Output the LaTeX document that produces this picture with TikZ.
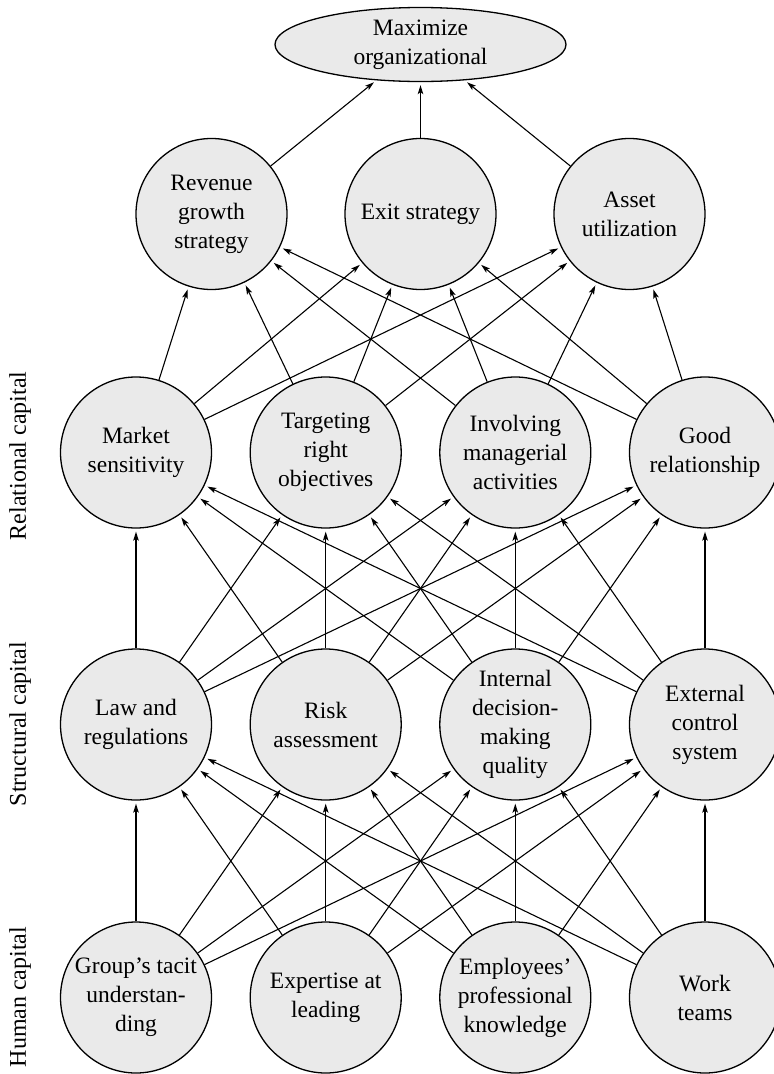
\documentclass[tikz,border=0pt]{standalone}
\usepackage{fontspec}
\setmainfont{Liberation Serif}
\usetikzlibrary{shapes.geometric,arrows.meta}
\definecolor{nodefill}{RGB}{234,234,234}
\begin{document}
\begin{tikzpicture}[x=1pt,y=-1pt,
  every node/.style={font=\fontsize{23.5}{29}\selectfont, align=center},
  cnode/.style={circle, draw=black, line width=1.3pt, fill=nodefill, minimum size=151pt, inner sep=0pt},
  enode/.style={ellipse, draw=black, line width=1.3pt, fill=nodefill, minimum width=291pt, minimum height=74pt, inner sep=0pt},
  sidelabel/.style={rotate=90, font=\fontsize{24}{29}\selectfont, anchor=center},
  link/.style={line width=1.1pt, -{Stealth[length=9pt,width=5.5pt,inset=2pt]}, shorten >=3pt}
]
\useasboundingbox (0,0) rectangle (774,1074);

% top
\node[enode] (max) at (420.5,44.5) {Maximize\\organizational};

% level 2
\node[cnode] (rev) at (211.5,214) {Revenue\\growth\\strategy};
\node[cnode] (exit) at (420.5,214) {Exit strategy};
\node[cnode] (asset) at (629.5,214) {Asset\\utilization};

% level 3
\node[cnode] (mkt) at (136,452.5) {Market\\sensitivity};
\node[cnode] (tgt) at (325.7,452.5) {Targeting\\right\\objectives};
\node[cnode] (inv) at (515.3,452.5) {Involving\\managerial\\activities};
\node[cnode] (good) at (705,452.5) {Good\\relationship};

% level 4
\node[cnode] (law) at (136,724.5) {Law and\\regulations};
\node[cnode] (risk) at (325.7,724.5) {Risk\\assessment};
\node[cnode] (idm) at (515.3,724.5) {Internal\\decision-\\making\\quality};
\node[cnode] (ext) at (705,724.5) {External\\control\\system};

% level 5
\node[cnode] (grp) at (136,997.5) {Group’s tacit\\understan-\\ding};
\node[cnode] (expt) at (325.7,997.5) {Expertise at\\leading};
\node[cnode] (emp) at (515.3,997.5) {Employees’\\professional\\knowledge};
\node[cnode] (work) at (705,997.5) {Work\\teams};

% side labels
\node[sidelabel] (lrel) at (20,456) {Relational capital};
\node[sidelabel] (lstr) at (20,724) {Structural capital};
\node[sidelabel] (lhum) at (20,997) {Human capital};

% edges: level 2 -> top
\foreach \s in {rev,exit,asset}
  \draw[link] (\s) -- (max);

% level 3 -> level 2
\foreach \s in {mkt,tgt,inv,good}
  \foreach \t in {rev,exit,asset}
    \draw[link] (\s) -- (\t);

% level 4 -> level 3
\foreach \s in {law,risk,idm,ext}
  \foreach \t in {mkt,tgt,inv,good}
    \draw[link] (\s) -- (\t);

% level 5 -> level 4
\foreach \s in {grp,expt,emp,work}
  \foreach \t in {law,risk,idm,ext}
    \draw[link] (\s) -- (\t);
\end{tikzpicture}
\end{document}
